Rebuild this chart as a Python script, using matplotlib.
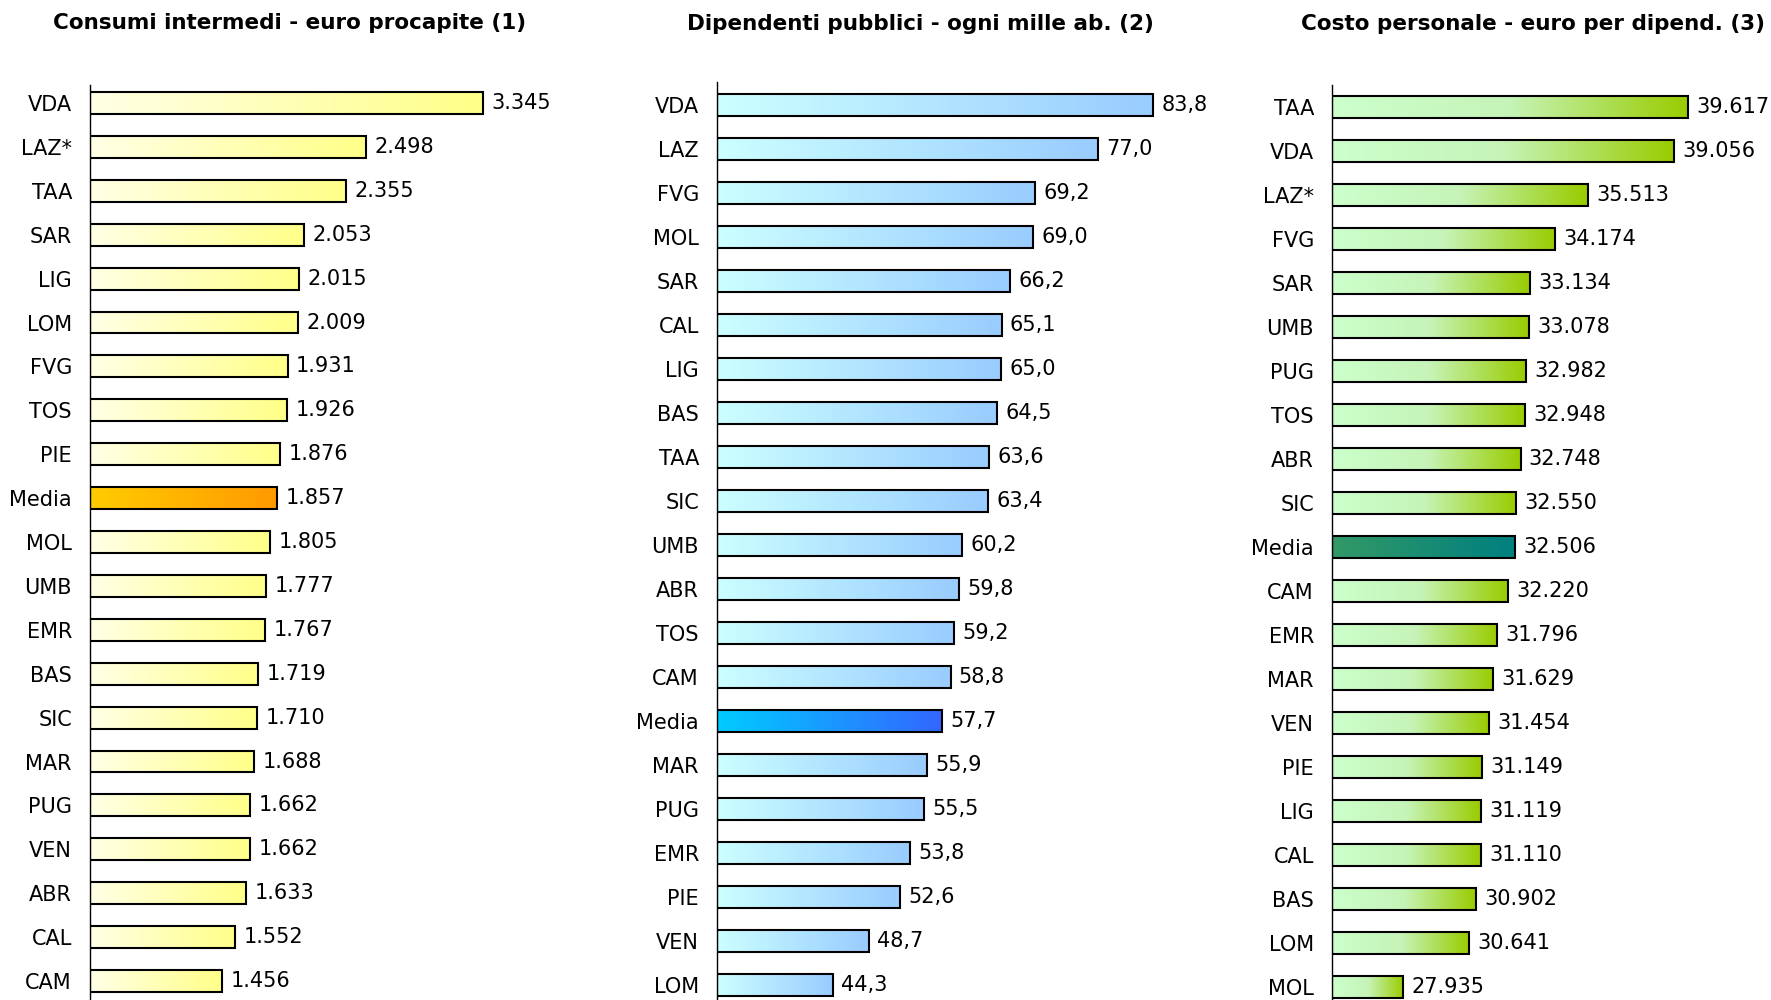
import numpy as np
import matplotlib
matplotlib.use('Agg')
import matplotlib.pyplot as plt
from matplotlib.colors import LinearSegmentedColormap

plt.rcParams['font.family'] = ['DejaVu Sans']

# --- data ---
titles = ['Consumi intermedi - euro procapite (1)',
          'Dipendenti pubblici - ogni mille ab. (2)',
          'Costo personale - euro per dipend. (3)']

cons_labels = ['VDA', 'LAZ*', 'TAA', 'SAR', 'LIG', 'LOM', 'FVG', 'TOS', 'PIE', 'Media', 'MOL',
               'UMB', 'EMR', 'BAS', 'SIC', 'MAR', 'PUG', 'VEN', 'ABR', 'CAL', 'CAM']
cons_values = [3345, 2498, 2355, 2053, 2015, 2009, 1931, 1926, 1876, 1857, 1805,
               1777, 1767, 1719, 1710, 1688, 1662, 1662, 1633, 1552, 1456]

dip_labels = ['VDA', 'LAZ', 'FVG', 'MOL', 'SAR', 'CAL', 'LIG', 'BAS', 'TAA', 'SIC', 'UMB',
              'ABR', 'TOS', 'CAM', 'Media', 'MAR', 'PUG', 'EMR', 'PIE', 'VEN', 'LOM']
dip_values = [83.8, 77.0, 69.2, 69.0, 66.2, 65.1, 65.0, 64.5, 63.6, 63.4, 60.2,
              59.8, 59.2, 58.8, 57.7, 55.9, 55.5, 53.8, 52.6, 48.7, 44.3]

costo_labels = ['TAA', 'VDA', 'LAZ*', 'FVG', 'SAR', 'UMB', 'PUG', 'TOS', 'ABR', 'SIC', 'Media',
                'CAM', 'EMR', 'MAR', 'VEN', 'PIE', 'LIG', 'CAL', 'BAS', 'LOM', 'MOL']
costo_values = [39617, 39056, 35513, 34174, 33134, 33078, 32982, 32948, 32748, 32550, 32506,
                32220, 31796, 31629, 31454, 31149, 31119, 31110, 30902, 30641, 27935]


def fmt_int(v):
    return '{:,.0f}'.format(v).replace(',', '.')


def fmt_dec(v):
    return '{:.1f}'.format(v).replace('.', ',')


W, H = 1771, 1000
fig = plt.figure(figsize=(W / 100, H / 100), dpi=100)

# layout in pixels: left, right, axis top, first row centre, row spacing; then x range, colours
panels = [
    (90, 601, 85, 103, 43.9, 500, 4200, ['#ffffe6', '#ffff88'], ['#ffcc00', '#ff9900'], fmt_int,
     cons_labels, cons_values),
    (717, 1244, 82, 105, 44.0, 30, 95, ['#ccffff', '#99ccff'], ['#00ccff', '#3366ff'], fmt_dec,
     dip_labels, dip_values),
    (1332, 1770, 85, 107, 44.0, 25000, 43000, ['#ccffcc', '#c6f4b8', '#99cc00'], ['#339966', '#008080'],
     fmt_int, costo_labels, costo_values),
]
title_x = [290, 920, 1533]
title_y = [23, 24, 24]

for i, (l, r, top, row0, step, xmin, xmax, cn, cm, fmt, labels, values) in enumerate(panels):
    ax = fig.add_axes([l / W, 0, (r - l) / W, (H - top) / H])
    n = len(labels)
    pos = np.arange(n)
    vals = np.array(values, dtype=float)
    bars = ax.barh(pos, vals - xmin, left=xmin, height=0.5, facecolor='none',
                   edgecolor='black', linewidth=1.5, zorder=3)
    grad = np.linspace(0, 1, 256).reshape(1, -1)
    for lab, b, v in zip(labels, bars, vals):
        colors = cm if lab == 'Media' else cn
        cmap = LinearSegmentedColormap.from_list('g', colors)
        x0, y0 = b.get_x(), b.get_y()
        im = ax.imshow(grad, cmap=cmap, aspect='auto', interpolation='bilinear',
                       extent=(x0, x0 + b.get_width(), y0, y0 + b.get_height()), zorder=2)
        im.set_clip_path(b)
        ax.annotate(fmt(v), (v, b.get_y() + b.get_height() / 2), xytext=(6, 0),
                    textcoords='offset points', va='center', ha='left', fontsize=15)
    ax.set_xlim(xmin, xmax)
    ax.set_ylim((H - row0) / step, -(row0 - top) / step)
    ax.set_yticks(pos)
    ax.set_yticklabels(labels, fontsize=15)
    ax.set_xticks([])
    ax.tick_params(axis='y', length=0, pad=13)
    for s in ['top', 'right', 'bottom']:
        ax.spines[s].set_visible(False)
    ax.spines['left'].set_linewidth(1)
    ax.patch.set_visible(False)
    fig.text(title_x[i] / W, 1 - title_y[i] / H, titles[i], ha='center', va='center',
             fontsize=15.5, fontweight='bold')

fig.savefig('out.png', dpi=100)
